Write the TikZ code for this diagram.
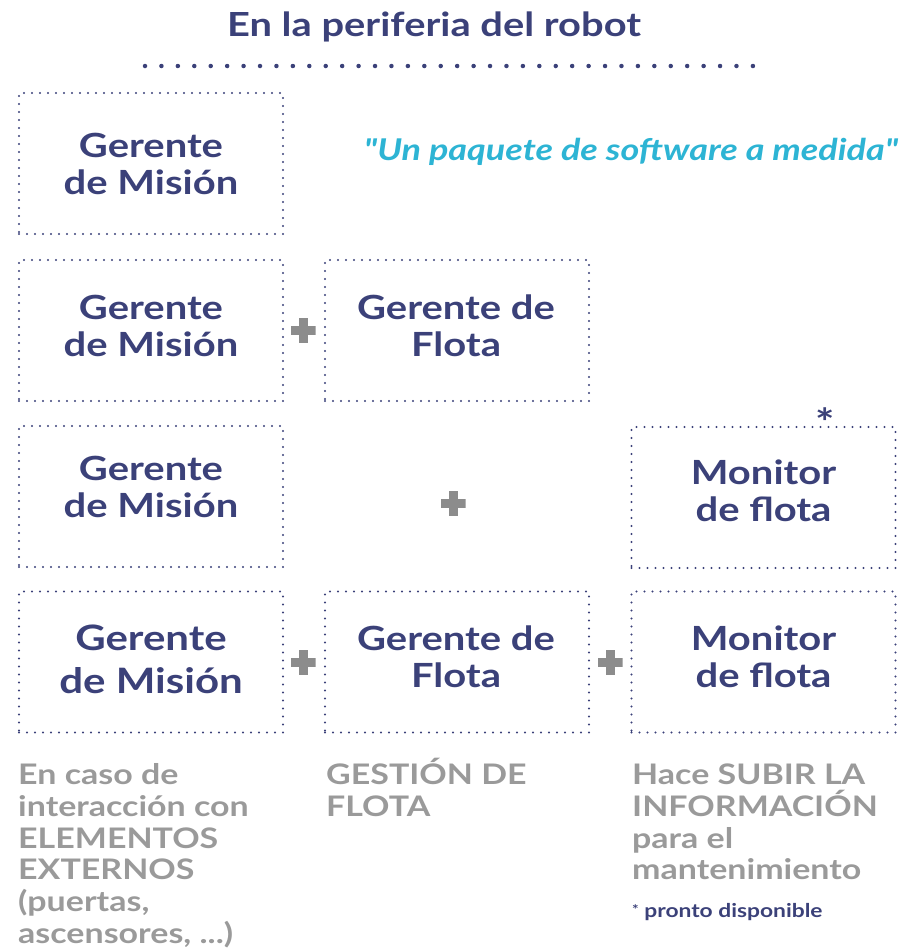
\documentclass[tikz,border=0pt]{standalone}
\usepackage{fontspec}
\setmainfont{Lato}[FakeStretch=1.2]
\newfontfamily\quotefont{Lato}[FakeStretch=1.2]
\definecolor{navy}{HTML}{3B4179}
\definecolor{plusgray}{HTML}{8C8C8C}
\definecolor{txtgray}{HTML}{9A9A9A}
\definecolor{cyanq}{HTML}{2DB4D4}
\tikzset{
  dotbox/.style={draw=navy, line width=2.4pt, dash pattern=on 0pt off 8pt, line cap=round,
    minimum width=264pt, minimum height=141pt, inner sep=0pt},
  boxtxt/.style={align=center, text=navy, inner sep=0pt,
    font=\bfseries\fontsize{33.3}{37}\selectfont},
  bigtxt/.style={font=\bfseries\fontsize{35}{43}\selectfont},
  plussign/.style={minimum size=25pt, inner sep=0pt,
    path picture={
      \fill[plusgray] ([xshift=-4.5pt,yshift=-12.5pt]path picture bounding box.center) rectangle ++(9pt,25pt);
      \fill[plusgray] ([xshift=-12.5pt,yshift=-4.5pt]path picture bounding box.center) rectangle ++(25pt,9pt);
    }},
  graytxt/.style={anchor=north west, align=left, text=txtgray, inner sep=0pt,
    font=\bfseries\fontsize{28.3}{31.8}\selectfont},
}
\begin{document}
\begin{tikzpicture}[x=1pt,y=-1pt]
\useasboundingbox (0,0) rectangle (920,948);
% title
\node[text=navy, font=\bfseries\fontsize{33.2}{40}\selectfont] (title) at (434,27) {En la periferia del robot};
\coordinate (dl) at (145,66);
\coordinate (dr) at (753,66);
\draw[navy, line width=4.5pt, line cap=round, dash pattern=on 0pt off 16.43pt] (dl) -- (dr);
% row 1
\node[dotbox] (m1) at (151,163.5) {};
\node[boxtxt] (m1t) at (151,163.5) {Gerente\\de Misión};
\node[text=cyanq, font=\quotefont\bfseries\itshape\fontsize{30}{34}\selectfont] (quote) at (631,152) {"Un paquete de software a medida"};
% row 2
\node[dotbox] (m2) at (151,330.5) {};
\node[boxtxt] (m2t) at (151,325.5) {Gerente\\de Misión};
\node[dotbox] (f2) at (457,330.5) {};
\node[boxtxt] (f2t) at (456,325.5) {Gerente de\\Flota};
\node[plussign] (p2) at (303,330) {};
% row 3
\node[dotbox] (m3) at (151,496.5) {};
\node[boxtxt] (m3t) at (151,486.5) {Gerente\\de Misión};
\node[plussign] (p3) at (453,503) {};
\node[dotbox] (c3) at (763.5,497.5) {};
\node[boxtxt] (c3t) at (763.5,490.5) {Monitor\\de flota};
\node[text=navy, font=\bfseries\fontsize{38}{38}\selectfont, inner sep=0pt] (ast) at (825,422) {*};
% row 4
\node[dotbox] (m4) at (151,662) {};
\node[boxtxt, bigtxt] (m4t) at (151,659.5) {Gerente\\de Misión};
\node[dotbox] (f4) at (457,662) {};
\node[boxtxt] (f4t) at (456,657) {Gerente de\\Flota};
\node[dotbox] (c4) at (763.5,662) {};
\node[boxtxt] (c4t) at (763.5,657) {Monitor\\de flota};
\node[plussign] (p4a) at (303,662) {};
\node[plussign] (p4b) at (610,662) {};
% bottom texts
\node[graytxt] (t1) at (18,758) {\vphantom{Ó}En caso de\\interacción con\\ELEMENTOS\\EXTERNOS\\(puertas,\\ascensores, ...)};
\node[graytxt] (t2) at (326,758) {\vphantom{Ó}GESTIÓN DE\\FLOTA};
\node[graytxt] (t3) at (632,758) {\vphantom{Ó}Hace SUBIR LA\\INFORMACIÓN\\para el\\mantenimiento};
\node[anchor=west, text=navy, inner sep=0pt, font=\bfseries\fontsize{19}{20}\selectfont] (note) at (632,912) {\raisebox{3pt}{\fontsize{13}{13}\selectfont *} pronto disponible};
\end{tikzpicture}
\end{document}
